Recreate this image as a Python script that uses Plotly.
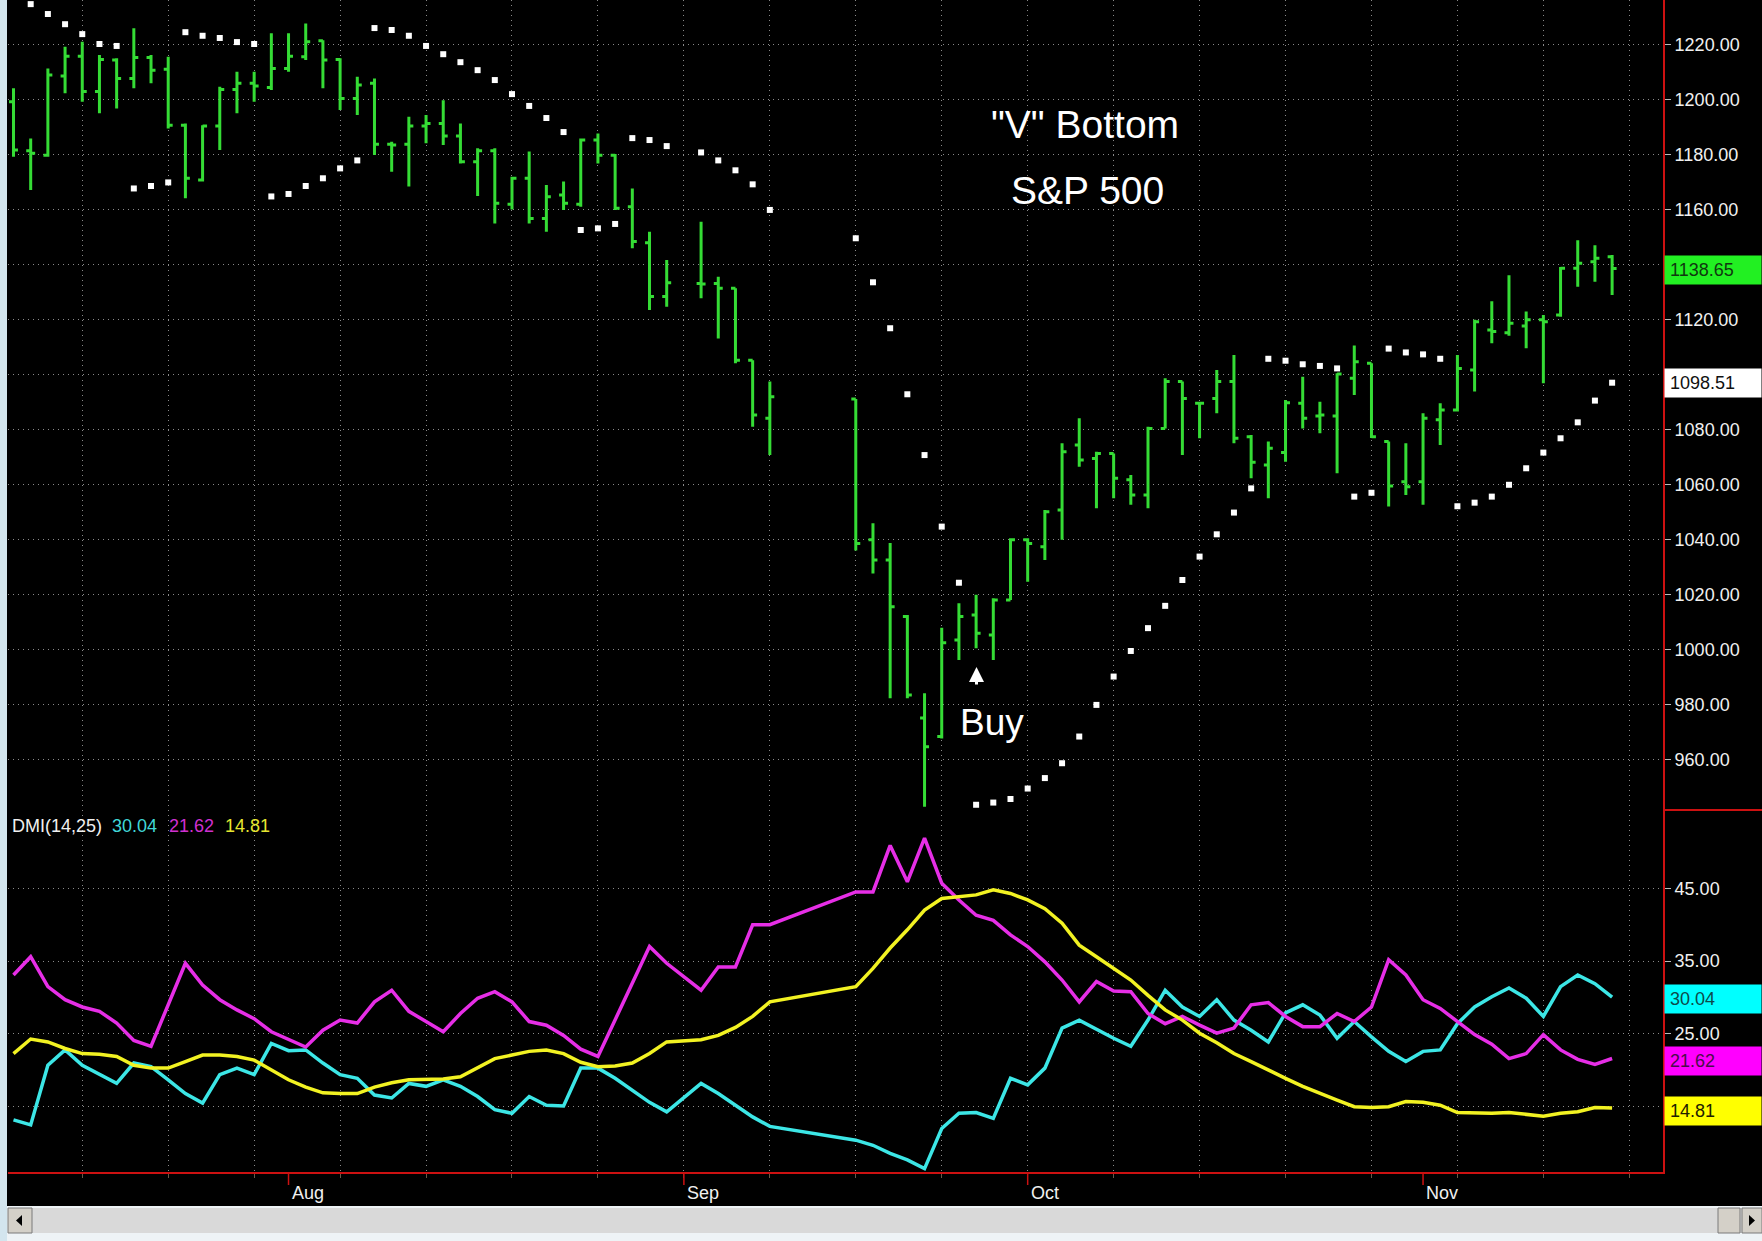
import plotly.graph_objects as go
import pandas as pd

W, H = 1762, 1241

# ---------------- data ----------------
dates = list(pd.bdate_range("2001-07-10", "2001-11-16"))   # one slot per weekday
N = len(dates)

open_ = [1199.2, 1181.4, 1179.8, 1208.6, 1215.8, 1202.9, 1214.4, 1207.7, 1215.3, 1211.0,
         1190.7, 1170.8, 1190.4, 1203.7, 1205.9, 1204.4, 1211.3, 1215.6, 1221.4, 1214.6,
         1200.4, 1205.9, 1183.8, 1183.8, 1190.4, 1191.3, 1186.8, 1177.4, 1181.4, 1162.0,
         1171.4, 1156.8, 1165.3, 1162.0, 1185.3, 1179.8, 1161.1, 1148.0, 1128.4, None,
         1133.2, 1133.2, 1131.4, 1105.3, 1084.2, None, None, None, None, 1091.2,
         1040.0, 1032.7, 1012.1, 975.2, 968.5, 1003.6, 1012.7, 1005.4, 1018.1, 1040.0,
         1037.5, 1050.8, 1074.5, 1069.6, 1071.4, 1061.8, 1056.3, 1080.5, 1097.5, 1089.6,
         1091.4, 1097.5, 1077.5, 1067.2, 1071.7, 1089.6, 1085.0, 1085.0, 1098.7, 1104.2,
         1075.7, 1061.1, 1061.1, 1083.6, 1087.2, 1101.7, 1116.3, 1115.3, 1117.7, 1120.0,
         1121.7, 1138.7, 1141.1, 1142.9]
high = [1204.1, 1185.9, 1211.3, 1219.2, 1221.0, 1216.2, 1215.0, 1225.9, 1216.2, 1215.6,
        1191.3, 1190.7, 1204.7, 1210.1, 1210.1, 1224.1, 1224.1, 1227.7, 1221.6, 1215.0,
        1208.3, 1207.7, 1184.7, 1193.8, 1194.4, 1199.8, 1191.3, 1182.3, 1182.3, 1172.0,
        1181.1, 1169.0, 1170.2, 1185.9, 1187.7, 1180.2, 1167.7, 1152.0, 1141.7, None,
        1155.6, 1135.6, 1131.4, 1105.3, 1097.5, None, None, None, None, 1091.2,
        1046.0, 1038.8, 1012.7, 984.2, 1008.0, 1016.9, 1020.0, 1018.8, 1040.6, 1040.6,
        1050.8, 1075.1, 1084.2, 1072.0, 1071.4, 1063.6, 1081.1, 1098.7, 1097.5, 1090.2,
        1101.7, 1107.2, 1078.1, 1075.7, 1090.8, 1099.3, 1090.2, 1100.5, 1110.6, 1104.2,
        1075.7, 1075.1, 1086.0, 1089.6, 1107.2, 1120.0, 1126.7, 1136.2, 1123.0, 1121.7,
        1139.2, 1148.9, 1147.1, 1143.5]
low = [1179.2, 1167.1, 1179.2, 1202.3, 1199.2, 1195.0, 1196.8, 1204.1, 1205.9, 1189.5,
       1164.1, 1170.2, 1181.7, 1195.0, 1199.2, 1203.5, 1210.1, 1214.4, 1204.1, 1196.2,
       1194.4, 1179.9, 1173.8, 1168.4, 1184.1, 1183.5, 1176.8, 1165.0, 1155.0, 1160.1,
       1155.0, 1152.0, 1159.9, 1161.1, 1176.8, 1159.9, 1146.0, 1123.5, 1124.7, None,
       1127.8, 1113.2, 1104.2, 1081.1, 1070.8, None, None, None, None, 1036.1,
       1027.8, 982.4, 982.4, 943.0, 967.8, 996.3, 1000.6, 996.3, 1018.1, 1024.8,
       1032.7, 1040.0, 1066.6, 1051.5, 1055.1, 1052.7, 1051.5, 1080.5, 1070.8, 1076.9,
       1086.0, 1075.1, 1062.4, 1055.1, 1068.4, 1080.5, 1078.7, 1064.2, 1092.6, 1077.0,
       1052.1, 1056.3, 1052.7, 1074.5, 1086.6, 1093.9, 1111.4, 1114.2, 1109.6, 1096.9,
       1121.1, 1132.0, 1133.8, 1129.0]
close = [1181.7, 1180.5, 1208.9, 1215.8, 1202.9, 1214.6, 1207.7, 1215.3, 1210.7, 1190.7,
         1171.4, 1190.4, 1203.7, 1205.9, 1204.9, 1211.3, 1215.8, 1221.0, 1214.4, 1200.4,
         1205.3, 1183.8, 1183.5, 1190.4, 1191.3, 1186.8, 1177.4, 1181.4, 1162.3, 1171.4,
         1156.8, 1164.7, 1162.3, 1185.3, 1179.8, 1160.5, 1148.4, 1128.4, 1133.4, None,
         1133.0, 1131.4, 1105.3, 1085.4, 1092.0, None, None, None, None, 1038.7,
         1032.7, 1015.7, 983.6, 964.8, 1002.6, 1012.1, 1006.0, 1018.1, 1040.0, 1038.7,
         1050.2, 1072.0, 1069.0, 1071.4, 1062.4, 1056.3, 1080.5, 1097.5, 1091.4, 1089.6,
         1097.5, 1076.9, 1068.2, 1073.3, 1089.8, 1084.2, 1085.4, 1100.3, 1104.7, 1077.5,
         1059.6, 1059.3, 1084.2, 1087.2, 1102.3, 1119.3, 1115.7, 1118.7, 1120.0, 1119.3,
         1138.7, 1140.5, 1142.3, 1138.65]
sar = [None, 1234.7, 1231.1, 1227.4, 1223.8, 1220.2, 1219.5, 1167.7, 1168.6, 1169.9,
       1224.5, 1223.2, 1222.4, 1220.9, 1220.2, 1164.8, 1165.7, 1168.6, 1171.4, 1175.0,
       1177.9, 1226.0, 1225.3, 1223.2, 1219.5, 1216.5, 1213.6, 1210.7, 1207.1, 1202.0,
       1197.7, 1193.3, 1188.2, 1152.6, 1153.2, 1154.8, 1186.0, 1185.3, 1183.1, None,
       1180.8, 1177.9, 1174.3, 1169.2, 1159.9, None, None, None, None, 1149.6,
       1133.6, 1116.9, 1092.9, 1070.8, 1044.8, 1024.4, 943.7, 944.5, 945.8, 949.6,
       953.4, 958.8, 968.5, 980.0, 990.3, 999.6, 1007.9, 1016.0, 1025.4, 1033.9,
       1042.0, 1049.9, 1058.7, 1105.8, 1105.1, 1103.8, 1103.2, 1102.3, 1055.7, 1057.1,
       1109.5, 1108.1, 1107.4, 1105.8, 1052.2, 1053.5, 1055.7, 1060.0, 1066.0, 1071.7,
       1076.9, 1082.7, 1090.6, 1097.1]
plus_di = [13.2, 12.5, 20.7, 22.8, 20.7, 19.5, 18.2, 21.0, 20.5, 18.7,
           16.8, 15.5, 19.4, 20.3, 19.4, 23.7, 22.7, 22.8, 21.0, 19.4,
           18.9, 16.6, 16.2, 18.2, 17.8, 18.7, 17.8, 16.4, 14.6, 14.1,
           16.4, 15.2, 15.1, 20.3, 20.3, 18.9, 17.3, 15.6, 14.3, None,
           18.2, 16.8, 15.2, 13.6, 12.3, None, None, None, None, 10.4,
           9.7, 8.6, 7.7, 6.5, 12.0, 14.1, 14.2, 13.4, 18.9, 18.0,
           20.3, 25.8, 26.9, 25.6, 24.4, 23.3, 26.9, 31.0, 28.7, 27.4,
           29.7, 26.9, 25.5, 23.9, 27.9, 29.0, 27.6, 24.4, 26.7, 24.6,
           22.6, 21.2, 22.6, 22.8, 26.4, 28.7, 30.1, 31.3, 29.9, 27.4,
           31.5, 33.1, 31.9, 30.04]
minus_di = [33.1, 35.6, 31.5, 29.7, 28.7, 28.1, 26.5, 24.1, 23.3, 29.0,
            34.7, 31.7, 29.7, 28.3, 27.1, 25.3, 24.2, 23.2, 25.5, 26.9,
            26.5, 29.4, 31.0, 28.1, 26.7, 25.3, 27.8, 29.9, 30.8, 29.4,
            26.7, 26.2, 24.8, 22.9, 21.9, 26.9, 31.9, 37.0, 34.7, None,
            31.0, 34.2, 34.2, 40.0, 40.0, None, None, None, None, 44.5,
            44.5, 50.9, 45.9, 51.9, 45.7, 43.4, 41.3, 40.6, 38.6, 37.0,
            34.9, 32.4, 29.4, 32.2, 30.9, 30.8, 27.8, 26.4, 27.4, 26.2,
            25.1, 25.8, 29.0, 29.3, 27.4, 26.0, 26.0, 27.8, 26.7, 28.7,
            35.2, 33.1, 29.7, 28.5, 26.7, 24.9, 23.6, 21.6, 22.3, 24.9,
            22.8, 21.5, 20.8, 21.62]
adx = [22.3, 24.3, 23.9, 23.0, 22.3, 22.2, 21.9, 20.7, 20.3, 20.3,
       21.2, 22.1, 22.1, 21.9, 21.4, 20.1, 18.7, 17.7, 16.9, 16.8,
       16.8, 17.7, 18.3, 18.7, 18.8, 18.8, 19.1, 20.3, 21.6, 22.1,
       22.6, 22.8, 22.3, 21.1, 20.5, 20.6, 21.0, 22.3, 23.9, None,
       24.2, 24.8, 25.9, 27.4, 29.4, None, None, None, None, 31.5,
       34.0, 36.8, 39.3, 42.0, 43.6, 43.9, 44.1, 44.8, 44.3, 43.4,
       42.2, 40.2, 37.2, 35.6, 34.0, 32.4, 30.3, 28.3, 26.9, 25.1,
       23.8, 22.3, 21.2, 20.0, 18.9, 17.8, 16.8, 15.9, 15.0, 14.9,
       15.0, 15.7, 15.6, 15.2, 14.2, 14.1, 14.1, 14.2, 13.9, 13.7,
       14.1, 14.3, 14.9, 14.81]

price_ticks = [960, 980, 1000, 1020, 1040, 1060, 1080, 1100, 1120, 1140, 1160, 1180, 1200, 1220]
hidden_price_ticks = [1100, 1140]          # covered by the last-value boxes
dmi_ticks = [15, 25, 35, 45]
dmi_tick_text = ["", "25.00", "35.00", "45.00"]
month_names = ["Aug", "Sep", "Oct", "Nov"]
last_close = 1138.65
last_sar = 1098.51
dmi_title = "DMI(14,25)"

# ---------------- style ----------------
GREEN = "#35dc35"
CYAN = "#3ce6e6"
MAGENTA = "#e62ee6"
YELLOW = "#f2f222"
RED = "#cc1111"
GRID = "#8a8a8a"
DASH = "1px,4px"
FONT = "Liberation Sans, Arial, sans-serif"


def px(x):
    return x / W


def py(y):
    return 1 - y / H


slots = list(range(N))
traded = [i for i in slots if close[i] is not None]
mondays = [i for i, d in enumerate(dates) if d.weekday() == 0] + [N]
month_starts = [i for i in range(1, N) if dates[i].month != dates[i - 1].month]

fig = go.Figure()

fig.add_trace(go.Ohlc(
    x=traded,
    open=[open_[i] for i in traded], high=[high[i] for i in traded],
    low=[low[i] for i in traded], close=[close[i] for i in traded],
    increasing=dict(line=dict(color=GREEN, width=3)),
    decreasing=dict(line=dict(color=GREEN, width=3)),
    tickwidth=0.26, xaxis="x", yaxis="y", hoverinfo="skip", showlegend=False))

sar_x = [i for i in slots if sar[i] is not None]
fig.add_trace(go.Scatter(
    x=sar_x, y=[sar[i] for i in sar_x], mode="markers",
    marker=dict(symbol="square", size=6, color="white", line=dict(width=0)),
    xaxis="x", yaxis="y", hoverinfo="skip", showlegend=False))

for series, col in [(plus_di, CYAN), (minus_di, MAGENTA), (adx, YELLOW)]:
    xs = [i for i in slots if series[i] is not None]
    fig.add_trace(go.Scatter(
        x=xs, y=[series[i] for i in xs], mode="lines",
        line=dict(color=col, width=3.5), xaxis="x2", yaxis="y2",
        hoverinfo="skip", showlegend=False))

X_RANGE = [-0.32, 95.96]
common_x = dict(range=X_RANGE, domain=[px(8), px(1663)], tickmode="array", tickvals=mondays,
                showgrid=True, gridcolor=GRID, griddash=DASH, gridwidth=1,
                zeroline=False, showticklabels=False, fixedrange=True)

fig.update_layout(
    width=W, height=H,
    margin=dict(l=0, r=0, t=0, b=0, pad=0),
    paper_bgcolor="black", plot_bgcolor="black",
    showlegend=False, hovermode=False,
    xaxis=dict(**common_x, anchor="y", ticks="", showline=False,
               rangeslider=dict(visible=False)),
    xaxis2=dict(**common_x, anchor="y2", matches="x", ticks="outside", ticklen=4,
                tickcolor="#6a5a4a", showline=True, linecolor=RED, linewidth=2),
    yaxis=dict(domain=[py(810), py(0)], range=[941.8, 1236.2], anchor="x", side="right",
               tickmode="array", tickvals=price_ticks,
               ticktext=["" if v in hidden_price_ticks else "%.2f" % v for v in price_ticks],
               showgrid=True, gridcolor=GRID, griddash=DASH, gridwidth=1,
               ticks="outside", ticklen=6, tickcolor="#bbbbbb", tickwidth=1,
               tickfont=dict(family=FONT, size=18, color="#f0f0f0"),
               showline=True, linecolor=RED, linewidth=2, zeroline=False, fixedrange=True),
    yaxis2=dict(domain=[py(1172), py(810)], range=[6.03, 55.76], anchor="x2", side="right",
                tickmode="array", tickvals=dmi_ticks, ticktext=dmi_tick_text,
                showgrid=True, gridcolor=GRID, griddash=DASH, gridwidth=1,
                ticks="outside", ticklen=6, tickcolor="#bbbbbb", tickwidth=1,
                tickfont=dict(family=FONT, size=18, color="#f0f0f0"),
                showline=True, linecolor=RED, linewidth=2, zeroline=False, fixedrange=True),
)

shapes = []
# left window border
shapes.append(dict(type="rect", xref="paper", yref="paper", x0=0, x1=px(7), y0=0, y1=1,
                   fillcolor="#d3e5ee", line=dict(width=0), layer="above"))
# separator in axis column
shapes.append(dict(type="line", xref="paper", yref="paper", x0=px(1663), x1=1,
                   y0=py(810), y1=py(810), line=dict(color=RED, width=2)))
# month tick marks
for m in month_starts:
    shapes.append(dict(type="line", xref="x2", yref="paper", x0=m, x1=m,
                       y0=py(1172), y1=py(1185), line=dict(color=RED, width=1.5)))
# scrollbar
shapes.append(dict(type="rect", xref="paper", yref="paper", x0=px(7), x1=1,
                   y0=py(1241), y1=py(1206), fillcolor="#eef3f6", line=dict(width=0)))
shapes.append(dict(type="rect", xref="paper", yref="paper", x0=px(8), x1=1,
                   y0=py(1233), y1=py(1208), fillcolor="#d9d9d9", line=dict(width=0)))
for (a, b) in [(8, 32), (1718, 1740), (1742, 1762)]:
    shapes.append(dict(type="rect", xref="paper", yref="paper", x0=px(a), x1=px(b),
                       y0=py(1233), y1=py(1208), fillcolor="#d4d0c8",
                       line=dict(color="#7a7a7a", width=1)))
shapes.append(dict(type="path", xref="paper", yref="paper",
                   path="M %f,%f L %f,%f L %f,%f Z" % (px(16), py(1220.5), px(22), py(1215), px(22), py(1226)),
                   fillcolor="black", line=dict(width=0)))
shapes.append(dict(type="path", xref="paper", yref="paper",
                   path="M %f,%f L %f,%f L %f,%f Z" % (px(1755), py(1220.5), px(1749), py(1215), px(1749), py(1226)),
                   fillcolor="black", line=dict(width=0)))

ann = []
ann.append(dict(text='"V" Bottom', xref="paper", yref="paper", x=px(1085), y=py(125),
                xanchor="center", yanchor="middle", showarrow=False,
                font=dict(family=FONT, size=39, color="white")))
ann.append(dict(text="S&P 500", xref="paper", yref="paper", x=px(1087), y=py(191),
                xanchor="center", yanchor="middle", showarrow=False,
                font=dict(family=FONT, size=39, color="white")))
ann.append(dict(text="Buy", xref="paper", yref="paper", x=px(992), y=py(722),
                xanchor="center", yanchor="middle", showarrow=False,
                font=dict(family=FONT, size=37, color="white")))
ann.append(dict(text="", xref="paper", yref="paper", x=px(976.5), y=py(667),
                ax=0, ay=19, showarrow=True, arrowhead=2, arrowsize=1,
                arrowwidth=3, arrowcolor="white"))
# DMI header
for txt, x0, col in [(dmi_title, 10, "#f0f0f0"), ("%.2f" % plus_di[-1], 110, "#40d8d8"),
                     ("%.2f" % minus_di[-1], 167, "#d030d0"), ("%.2f" % adx[-1], 223, "#e6e630")]:
    ann.append(dict(text=txt, xref="paper", yref="paper", x=px(x0), y=py(826),
                    xanchor="left", yanchor="middle", showarrow=False,
                    font=dict(family=FONT, size=18, color=col)))
# last value boxes
for val, yref, bg, fg, shift in [(last_close, "y", "#22f022", "#103810", -2),
                                  (last_sar, "y", "#ffffff", "#101010", -4),
                                  (plus_di[-1], "y2", "#00ffff", "#0e4a4a", -2),
                                  (minus_di[-1], "y2", "#ff00ff", "#4a0e4a", -2),
                                  (adx[-1], "y2", "#ffff00", "#202000", -3)]:
    ann.append(dict(text="%.2f" % val, xref="paper", yref=yref, x=px(1664), y=val,
                    xanchor="left", yanchor="middle", yshift=shift, showarrow=False,
                    align="left", width=86, height=18, borderpad=5, bgcolor=bg,
                    font=dict(family=FONT, size=18, color=fg)))
# month labels
for m, name in zip(month_starts, month_names):
    ann.append(dict(text=name, xref="x2", yref="paper", x=m, y=py(1193), xshift=1,
                    xanchor="left", yanchor="middle", showarrow=False,
                    font=dict(family=FONT, size=18, color="#f0f0f0")))

fig.update_layout(shapes=shapes, annotations=ann)

fig.write_html("out.html", config={"displayModeBar": False},
               post_script="document.body.style.margin='0';document.body.style.overflow='hidden';")
